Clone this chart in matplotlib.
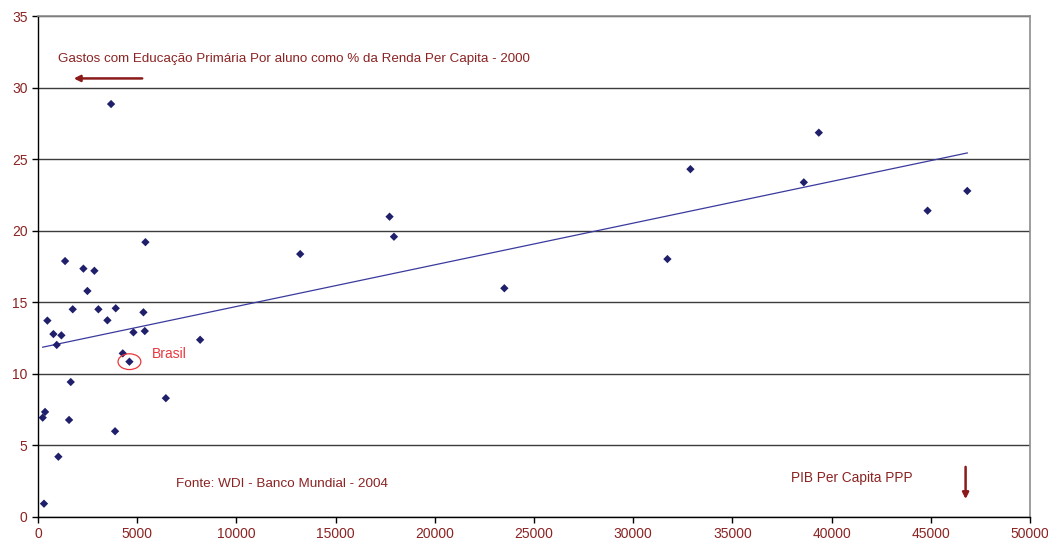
import matplotlib
matplotlib.use("Agg")
import matplotlib.pyplot as plt
from matplotlib.patches import Ellipse
import numpy as np

# GDP per capita (PPP) and primary education spending per pupil (% of income per capita)
pib_per_capita = [299, 1025, 3882, 1563, 235, 353, 6441, 1648, 4606, 4271,
                  942, 8170, 1177, 774, 4808, 5380, 471, 3496, 5312, 1748,
                  3042, 3916, 2488, 23502, 2840, 2286, 1362, 31722, 13213, 5412,
                  17939, 17717, 44834, 46835, 38596, 32881, 39352, 3681]
gasto_primario = [0.93, 4.21, 5.99, 6.78, 6.94, 7.34, 8.30, 9.43, 10.85, 11.43,
                  12.02, 12.38, 12.69, 12.78, 12.90, 12.99, 13.72, 13.74, 14.30, 14.51,
                  14.51, 14.58, 15.79, 15.98, 17.20, 17.35, 17.88, 18.02, 18.37, 19.20,
                  19.58, 20.98, 21.40, 22.78, 23.38, 24.30, 26.85, 28.85]
brasil = (4606, 10.85)

x_ticks = list(range(0, 50001, 5000))
y_ticks = list(range(0, 36, 5))

label_color = "#8B2323"
marker_color = "#1F1F6B"

plt.rcParams["font.family"] = ["Liberation Sans", "DejaVu Sans"]

fig = plt.figure(figsize=(10.48, 5.41), dpi=100)
ax = fig.add_axes([0.0363, 0.0444, 0.9466, 0.926])

x = np.array(pib_per_capita, dtype=float)
y = np.array(gasto_primario, dtype=float)

# linear trend over the range of the data
slope, intercept = np.polyfit(x, y, 1)
xl = np.array([x.min(), x.max()])
ax.plot(xl, intercept + slope * xl, color="#3A3A9E", lw=0.9, zorder=2)

ax.scatter(x, y, marker="D", s=18, color=marker_color, edgecolors="none", zorder=3)

ax.set_xlim(0, 50000)
ax.set_ylim(0, 35)
ax.set_xticks(x_ticks)
ax.set_yticks(y_ticks)
ax.tick_params(axis="both", colors="black", labelcolor=label_color, labelsize=10,
               direction="out", length=4, width=1)
ax.yaxis.grid(True, color="#3C3C3C", lw=1)
ax.set_axisbelow(True)

for side in ("left", "bottom"):
    ax.spines[side].set_color("black")
    ax.spines[side].set_linewidth(1)
for side in ("top", "right"):
    ax.spines[side].set_color("#8C8C8C")
    ax.spines[side].set_linewidth(1.2)

# Brasil highlight
ax.add_patch(Ellipse(brasil, width=1150, height=1.1, fill=False,
                     edgecolor="#E8383D", lw=0.9, zorder=4))
ax.text(brasil[0] + 1150, brasil[1] + 0.55, "Brasil", color="#E8383D",
        fontsize=10, va="center", ha="left")

# axis descriptions
ax.text(0.0203, 0.9148, "Gastos com Educação Primária Por aluno como % da Renda Per Capita - 2000",
        transform=ax.transAxes, color=label_color, fontsize=9.65, va="center", ha="left")
ax.annotate("", xy=(0.036, 0.8754), xytext=(0.105, 0.8754), xycoords="axes fraction",
            arrowprops=dict(arrowstyle="-|>", color="#8B1A1A", lw=1.8,
                            mutation_scale=9, shrinkA=0, shrinkB=0))
ax.text(0.139, 0.0659, "Fonte: WDI - Banco Mundial - 2004", transform=ax.transAxes,
        color=label_color, fontsize=9.7, va="center", ha="left")
ax.text(0.759, 0.0779, "PIB Per Capita PPP", transform=ax.transAxes,
        color=label_color, fontsize=9.8, va="center", ha="left")
ax.annotate("", xy=(46750, 1.25), xytext=(46750, 3.5), xycoords="data",
            arrowprops=dict(arrowstyle="-|>", color="#8B1A1A", lw=1.8,
                            mutation_scale=9, shrinkA=0, shrinkB=0))

fig.savefig("out.png", dpi=100)
